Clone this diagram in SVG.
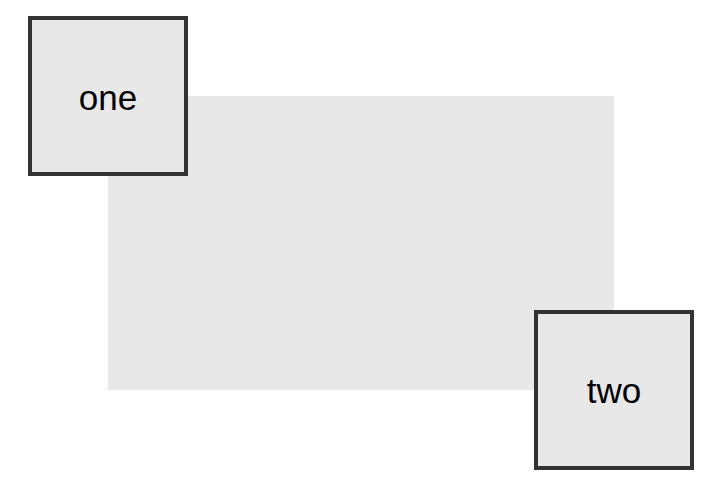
<svg xmlns="http://www.w3.org/2000/svg" width="710" height="484" viewBox="0 0 710 484">
<style>
.bg{fill:#e8e8e8}
.node rect{fill:#e8e8e8;stroke:#333333;stroke-width:4}
.node text{font-family:"Liberation Sans",Arial,Helvetica,sans-serif;font-size:35px;fill:#000;text-anchor:middle}
</style>
<rect width="710" height="484" fill="#ffffff"/>
<rect id="area" class="bg" x="108" y="96" width="506" height="294"/>
<g id="connectors"></g>
<g id="one" class="node">
<rect x="30" y="18" width="156" height="156"/>
<text x="108" y="110">one</text>
</g>
<g id="two" class="node">
<rect x="536" y="312" width="156" height="156"/>
<text x="614" y="403">two</text>
</g>
</svg>
